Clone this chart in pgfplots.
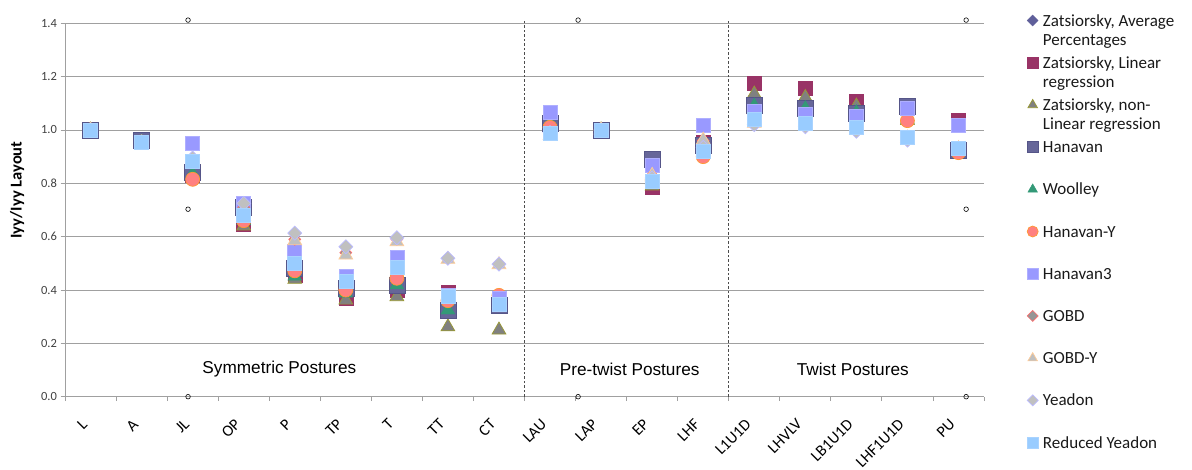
\documentclass[border=0pt]{standalone}
\usepackage{pgfplots}
\pgfplotsset{compat=1.18}
\usepackage{pgfplotstable}
\usepackage{fontspec}
\setmainfont{Carlito}
\newfontfamily\arialf{Liberation Sans}

\definecolor{cZA}{HTML}{5F5F9A}
\definecolor{cZL}{HTML}{993366}
\definecolor{cZN}{HTML}{808080}
\definecolor{cZNb}{HTML}{999933}
\definecolor{cHA}{HTML}{666699}
\definecolor{cHAb}{HTML}{555588}
\definecolor{cWO}{HTML}{339977}
\definecolor{cHY}{HTML}{FF8080}
\definecolor{cHYb}{HTML}{FF9933}
\definecolor{cH3}{HTML}{9999FF}
\definecolor{cH3b}{HTML}{AFAFFF}
\definecolor{cGO}{HTML}{969696}
\definecolor{cGOb}{HTML}{FF7070}
\definecolor{cGY}{HTML}{C0C0C0}
\definecolor{cGYb}{HTML}{FFCC99}
\definecolor{cYE}{HTML}{C0C0C0}
\definecolor{cYEb}{HTML}{BBBBFF}
\definecolor{cRY}{HTML}{99CCFF}
\definecolor{cRYb}{HTML}{A9D3FF}
\definecolor{gridc}{HTML}{A0A0A0}
\definecolor{tickc}{HTML}{404040}

\pgfplotstableread{
x  za    zl    zn    ha    wo    hy    h3    go    gy    ye    ry
0  1.0   1.0   1.0   1.0   1.0   1.0   1.0   1.0   1.0   1.0   1.0
1  .955  .955  .955  .96   .955  .955  .955  .955  .95   .955  .952
2  .835  .83   .83   .84   .835  .815  .95   .885  .885  .895  .881
3  .70   .645  .64   .71   .66   .66   .725  .71   .70   .725  .68
4  .47   .455  .44   .483  .452  .472  .544  .59   .585  .613  .502
5  .40   .37   .362  .408  .388  .40   .452  .54   .531  .562  .431
6  .42   .40   .375  .419  .419  .444  .523  .59   .581  .596  .487
7  .33   .392  .262  .323  .325  .36   .38   .52   .515  .519  .378
8  .345  .35   .25   .344  .35   .38   .37   .50   .495  .497  .347
9  1.02  1.02  1.02  1.025 1.025 1.01  1.065 .99   .98   .99   .988
10 1.0   1.0   1.0   1.0   1.0   1.0   1.0   1.0   1.0   1.0   .998
11 .80   .785  .79   .889  .81   .81   .868  .83   .83   .82   .806
12 .94   .955  .94   .944  .93   .90   1.019 .96   .962  .935  .919
13 1.09  1.176 1.135 1.092 1.09  1.06  1.071 1.03  1.025 1.02  1.039
14 1.08  1.158 1.122 1.081 1.08  1.05  1.058 1.02  1.015 1.012 1.026
15 1.065 1.109 1.09  1.064 1.065 1.04  1.05  1.0   .998  .995  1.009
16 1.085 1.08  1.035 1.09  1.04  1.035 1.083 .97   .97   .962  .971
17 .925  1.035 .92   .924  .92   .915  1.017 .93   .93   .93   .933
}\datatable

\begin{document}
\begin{tikzpicture}
\path[use as bounding box] (0,0) rectangle (1192pt,470pt);
\begin{axis}[
  at={(65pt,73.3pt)}, anchor=south west,
  scale only axis, width=919pt, height=373.4pt,
  xmin=-0.5, xmax=17.5, ymin=0, ymax=1.4,
  clip=false,
  axis lines*=left,
  axis line style={gridc, line width=0.9pt},
  ymajorgrids, grid style={gridc, line width=0.9pt},
  ytick={0,0.2,0.4,0.6,0.8,1.0,1.2,1.4},
  yticklabel={\pgfmathprintnumber[fixed,fixed zerofill,precision=1]{\tick}},
  /pgf/number format/assume math mode=true,
  yticklabel style={font=\fontsize{12.5}{14}\selectfont, text=tickc},
  tick align=outside, major tick length=4.5pt,
  tick style={gridc, line width=0.9pt},
  xtick={-0.5,0.5,...,17.5},
  xticklabels={,,,,,,,,,,,,,,,,,,,},
  extra x ticks={0,1,...,17},
  extra x tick labels={L,A,JL,OP,P,TP,T,TT,CT,LAU,LAP,EP,LHF,L1U1D,LHVLV,LB1U1D,LHF1U1D,PU},
  extra x tick style={major tick length=0pt, grid=none,
     tick label style={yshift=-25pt, xshift=-6pt, rotate=45, anchor=east, inner sep=0pt,
       font=\fontsize{16}{18}\selectfont, text=black}},
  ylabel={Iyy/Iyy Layout},
  every axis y label/.style={at={(axis description cs:-0.052,0.5536)}, rotate=90, anchor=center,
     font=\bfseries\fontsize{16.5}{18}\selectfont},
  legend cell align=left,
  legend style={at={(1.0470,1.0329)}, anchor=north west, draw=none, fill=none,
     inner sep=0pt, outer sep=0pt, row sep=0pt, column sep=4.8pt,
     nodes={inner sep=0pt, text height=15pt, text depth=27.2pt,
        font=\fontsize{17}{19.5}\selectfont, text=black!90}},
  legend image code/.code={\draw[#1] plot coordinates {(0pt,0pt)};},
  legend image post style={yshift=11.6pt, mark size=5.5pt},
]
\addplot[only marks, mark=diamond*, mark size=7pt, mark options={xscale=1.333, fill=cZA, draw=cZA}] table[x=x,y=za]{\datatable};
\addlegendentry{\parbox[t]{145pt}{Zatsiorsky, Average\\Percentages}}
\addplot[only marks, mark=square*, mark size=7pt, mark options={fill=cZL, draw=cZL}] table[x=x,y=zl]{\datatable};
\addlegendentry{\parbox[t]{145pt}{Zatsiorsky, Linear\\regression}}
\addplot[only marks, mark=triangle*, mark size=8pt, mark options={fill=cZN, draw=cZNb, line width=0.7pt}] table[x=x,y=zn]{\datatable};
\addlegendentry{\parbox[t]{145pt}{Zatsiorsky, non-\\Linear regression}}
\addplot[only marks, mark=square*, mark size=8pt, mark options={fill=cHA, draw=cHAb, line width=0.6pt}] table[x=x,y=ha]{\datatable};
\addlegendentry{Hanavan}
\addplot[only marks, mark=triangle*, mark size=8pt, mark options={fill=cWO, draw=cWO}] table[x=x,y=wo]{\datatable};
\addlegendentry{Woolley}
\addplot[only marks, mark=*, mark size=7pt, mark options={fill=cHY, draw=cHYb, line width=0.7pt}] table[x=x,y=hy]{\datatable};
\addlegendentry{Hanavan-Y}
\addplot[only marks, mark=square*, mark size=7pt, mark options={fill=cH3, draw=cH3b, line width=0.6pt}] table[x=x,y=h3]{\datatable};
\addlegendentry{Hanavan3}
\addplot[only marks, mark=diamond*, mark size=6pt, mark options={xscale=1.333, fill=cGO, draw=cGOb, line width=0.6pt}] table[x=x,y=go]{\datatable};
\addlegendentry{GOBD}
\addplot[only marks, mark=triangle*, mark size=8pt, mark options={fill=cGY, draw=cGYb, line width=0.7pt}] table[x=x,y=gy]{\datatable};
\addlegendentry{GOBD-Y}
\addplot[only marks, mark=diamond*, mark size=7pt, mark options={xscale=1.333, fill=cYE, draw=cYEb, line width=0.7pt}] table[x=x,y=ye]{\datatable};
\addlegendentry{Yeadon}
\addplot[only marks, mark=square*, mark size=7pt, mark options={fill=cRY, draw=cRYb, line width=0.6pt}] table[x=x,y=ry]{\datatable};
\addlegendentry{Reduced Yeadon}
% helper circles and section dividers
\addplot[forget plot, only marks, mark=o, mark size=2.3pt, mark options={draw=black, line width=0.6pt}] coordinates {
 (1.91,1.412) (1.91,0.703) (1.91,0)
 (9.55,1.412) (9.55,0)
 (17.15,1.412) (17.15,0.703) (17.15,0)};
\addplot[forget plot, no marks, draw=black!70, line width=0.9pt, dash pattern=on 2.5pt off 2pt] coordinates {(8.5,0) (8.5,1.41)};
\addplot[forget plot, no marks, draw=black!70, line width=0.9pt, dash pattern=on 2.5pt off 2pt] coordinates {(12.5,0) (12.5,1.41)};
\node[font=\arialf\fontsize{17.2}{19}\selectfont] at (axis cs:3.70,0.102) {Symmetric Postures};
\node[font=\arialf\fontsize{17.2}{19}\selectfont] at (axis cs:10.56,0.102) {Pre-twist Postures};
\node[font=\arialf\fontsize{17.2}{19}\selectfont] at (axis cs:14.93,0.102) {Twist Postures};
\end{axis}
\end{tikzpicture}
\end{document}
